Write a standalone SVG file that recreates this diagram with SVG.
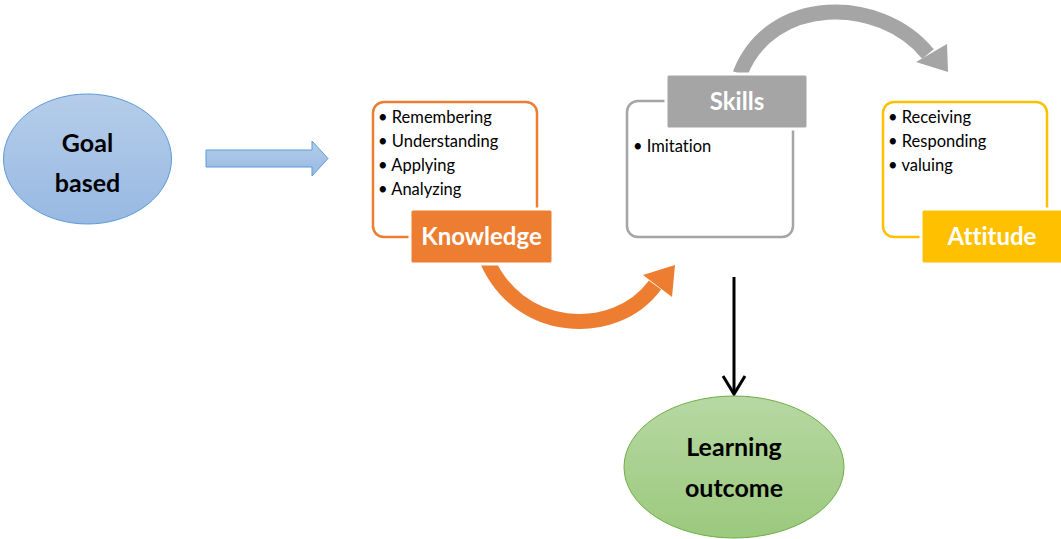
<svg xmlns="http://www.w3.org/2000/svg" width="1061" height="539" viewBox="0 0 1061 539">
<defs>
<linearGradient id="gBlue" x1="0" y1="0" x2="0" y2="1"><stop offset="0" stop-color="#b5cdea"/><stop offset="1" stop-color="#98b9e2"/></linearGradient>
<linearGradient id="gGreen" x1="0" y1="0" x2="0" y2="1"><stop offset="0" stop-color="#b7d8a3"/><stop offset="1" stop-color="#9bc97d"/></linearGradient>
<style>
.t{font-family:Lato,"Open Sans","Liberation Sans",sans-serif;font-variant-ligatures:none}
.big{font-size:25px;font-weight:bold;fill:#000;text-anchor:middle}
.lab{font-size:24px;font-weight:bold;fill:#fff;text-anchor:middle}
.bul{font-size:16.5px;fill:#000}
.box{fill:#fff;stroke-width:2.5}
</style>
</defs>
<g id="connectors">
<path d="M206,150 H312 V141 L328,158.5 L312,176 V167 H206 Z" fill="url(#gBlue)" stroke="#5b9bd5" stroke-width="1"/>
<path d="M485,255 C515,335 615,340 655,285" fill="none" stroke="#ed7d31" stroke-width="15"/>
<polygon points="675,265 643,275 672,297" fill="#ed7d31"/>
<path d="M740,74 C770,-5 880,-5 928,54" fill="none" stroke="#a5a5a5" stroke-width="15"/>
<polygon points="948,72 916,62 947,44" fill="#a5a5a5"/>
<line x1="734" y1="277" x2="734" y2="394" stroke="#000" stroke-width="3"/>
<polyline points="723,376 734,394 745,376" fill="none" stroke="#000" stroke-width="3"/>
</g>
<g id="goal">
<ellipse cx="87.5" cy="159" rx="84" ry="65" fill="url(#gBlue)" stroke="#5b9bd5" stroke-width="1"/>
<text class="t big" x="87.5" y="152">Goal</text>
<text class="t big" x="87.5" y="192">based</text>
</g>
<g id="knowledge">
<rect class="box" x="373" y="102" width="164" height="135" rx="11" stroke="#ed7d31"/>
<text class="t bul" x="378" y="123">• Remembering</text>
<text class="t bul" x="378" y="147">• Understanding</text>
<text class="t bul" x="378" y="171">• Applying</text>
<text class="t bul" x="378" y="195">• Analyzing</text>
<rect x="410" y="209" width="143" height="55" rx="3" fill="#ed7d31" stroke="#fff" stroke-width="3"/>
<text class="t lab" x="481.5" y="245">Knowledge</text>
</g>
<g id="skills">
<rect class="box" x="627" y="101" width="166" height="136" rx="11" stroke="#a5a5a5"/>
<text class="t bul" x="633" y="152">• Imitation</text>
<rect x="666" y="74" width="142" height="55" rx="3" fill="#a5a5a5" stroke="#fff" stroke-width="3"/>
<text class="t lab" x="737" y="110">Skills</text>
</g>
<g id="attitude">
<rect class="box" x="883" y="102" width="164" height="135" rx="11" stroke="#ffc000"/>
<text class="t bul" x="888" y="123">• Receiving</text>
<text class="t bul" x="888" y="147">• Responding</text>
<text class="t bul" x="888" y="171">• valuing</text>
<rect x="921" y="209" width="143" height="55" rx="3" fill="#ffc000" stroke="#fff" stroke-width="3"/>
<text class="t lab" x="992" y="245">Attitude</text>
</g>
<g id="outcome">
<ellipse cx="734" cy="467" rx="110" ry="71" fill="url(#gGreen)" stroke="#70ad47" stroke-width="1"/>
<text class="t big" x="734" y="456">Learning</text>
<text class="t big" x="734" y="497">outcome</text>
</g>
</svg>
